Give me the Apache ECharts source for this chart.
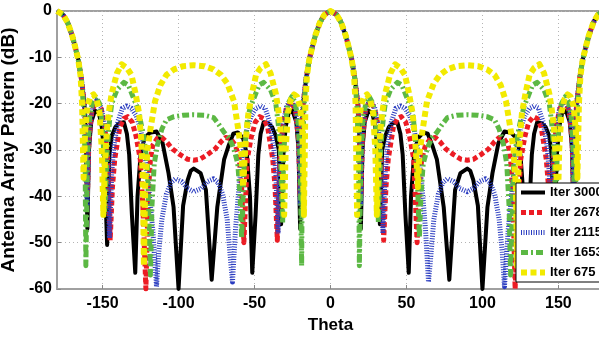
<!DOCTYPE html>
<html>
<head>
<meta charset="utf-8">
<script src="https://cdn.jsdelivr.net/npm/echarts@6/dist/echarts.min.js"></script>
<style>
  html, body { margin: 0; padding: 0; background: #fff; }
  #chart { width: 599px; height: 337px; }
</style>
</head>
<body>
<div id="chart"></div>
<script>
// theta (deg) and pattern (dB), one pair of arrays per curve

const theta3000 = [
  -180,-176,-173,-170,-168,-166,-164,-162,-161,-160,-159,-157.5,-155,-152.5,-150.5,-149,-147,-145.5,-144,-141.5,-139,-136,-134,-132.5,-130.7,-128.5,-127,-125,-122.5,-119,-114.5,-110.5,-106.6,-103.3,-100,-97,-94,-92,-90,
  -85.5,-82,-78.2,-74.5,-70,-67,-64,-61,-57.5,-55,-53,-51.5,-49.3,-47.5,-46,-44,-41,-38.5,-36,-34,-32.5,-31,-29.5,-27.5,-25,-22.5,-21,-20,-19,-18,-16,-14,-12,-10,-7,-4,0,
  4,7,10,12,14,16,18,19,20,21,22.5,25,27.5,29.5,31,32.5,34,36,38.5,41,44,46,47.5,49.3,51.5,53,55,57.5,61,64,67,70,74.5,78.2,82,85.5,90,
  92,94,97,100,103.3,106.6,110.5,114.5,119,122.5,125,127,128.5,130.7,132.5,134,136,139,141.5,144,145.5,147,149,150.5,152.5,155,157.5,159,160,161,162,164,166,168,170,173,176,180
];
const db3000 = [
  0,-0.8,-2.5,-5.3,-7.8,-10.5,-14.5,-20,-27,-47,-30,-24,-21.5,-22,-25,-31,-50.5,-31,-27,-25,-24.2,-24,-26.5,-31,-44,-56.5,-40,-31,-27.5,-26.3,-26,-28.5,-35,-42.3,-60,-42,-36.5,-34.5,-34,
  -35,-38.6,-58,-42.3,-32,-29,-26.5,-26.2,-27.5,-31,-40,-56.5,-44,-31,-26.5,-24,-24.2,-25,-27,-30,-46,-31,-25,-22,-21.5,-24,-30,-47,-27,-20,-14.5,-10.5,-7.8,-5.3,-2.5,-0.8,0,
  -0.8,-2.5,-5.3,-7.8,-10.5,-14.5,-20,-27,-47,-30,-24,-21.5,-22,-25,-31,-46,-30,-27,-25,-24.2,-24,-26.5,-31,-44,-56.5,-40,-31,-27.5,-26.2,-26.5,-29,-32,-42.3,-58,-38.6,-35,-34,
  -34.5,-36.5,-42,-60,-42.3,-35,-28.5,-26,-26.3,-27.5,-31,-40,-56.5,-44,-31,-26.5,-24,-24.2,-25,-27,-31,-50.5,-31,-25,-22,-21.5,-24,-30,-47,-27,-20,-14.5,-10.5,-7.8,-5.3,-2.5,-0.8,0
];

const theta2678 = [
  -180,-176,-173,-170,-168,-166,-164,-162,-160.8,-160,-159,-157,-154,-151,-148.5,-146.5,-145,-143.5,-142,-138.6,-136,-133.5,-130.5,-128,-125.2,-123.5,-121.5,-120,-118.5,-117,-114,-111,-108,-104,-99,-94,-90,
  -86,-81,-76,-72,-69,-66,-62.5,-60,-58.5,-57,-56,-54.8,-52,-49.5,-46.5,-44,-41.4,-38,-36.5,-35,-33.5,-31.5,-29,-26,-23,-21,-20,-19.2,-18,-16,-14,-12,-10,-7,-4,0,
  4,7,10,12,14,16,18,19.2,20,21,23,26,29,31.5,33.5,35,36.5,38,41.4,44,46.5,49.5,52,54.8,56,57,58.5,60,62.5,66,69,72,76,81,86,90,
  94,99,104,108,111,114,117,118.5,120,121.5,123.5,125.2,128,130.5,133.5,136,138.6,142,143.5,145,146.5,148.5,151,154,157,159,160,160.8,162,164,166,168,170,173,176,180
];
const db2678 = [
  0,-0.8,-2.5,-5.3,-7.8,-10.5,-14.5,-20,-27,-40,-28,-21.5,-19.5,-21,-25,-33,-49.5,-38,-32,-25,-23.2,-22.8,-24,-27,-32,-42,-60,-40,-32,-29,-27.5,-27.3,-28.2,-29.8,-31,-32,-32.2,
  -32,-31,-29.8,-28.2,-27.3,-27.5,-29,-32,-38,-50,-42,-32,-27,-24,-22.8,-23.2,-25,-32,-38,-49.5,-33,-25,-21,-19.5,-21.5,-28,-40,-27,-20,-14.5,-10.5,-7.8,-5.3,-2.5,-0.8,0,
  -0.8,-2.5,-5.3,-7.8,-10.5,-14.5,-20,-27,-40,-28,-21.5,-19.5,-21,-25,-33,-49.5,-38,-32,-25,-23.2,-22.8,-24,-27,-32,-42,-50,-38,-32,-29,-27.5,-27.3,-28.2,-29.8,-31,-32,-32.2,
  -32,-31,-29.8,-28.2,-27.3,-27.5,-29,-32,-40,-60,-42,-32,-27,-24,-22.8,-23.2,-25,-32,-38,-49.5,-33,-25,-21,-19.5,-21.5,-28,-40,-27,-20,-14.5,-10.5,-7.8,-5.3,-2.5,-0.8,0
];

const theta2115 = [
  -180,-176,-173,-170,-168,-166,-164,-162,-160.8,-160.2,-159,-157,-154,-151,-148.5,-146.8,-145.5,-144,-142.5,-140,-137,-134,-131,-128,-125,-122.5,-120,-117,-114.5,-113,-111,-108,-105,-102,-98,-94,-90,
  -85,-81,-77,-74,-71,-68,-66,-64.5,-62.5,-60,-57.5,-55,-52,-49,-46,-43,-40,-37.5,-36,-34.5,-33.2,-31.5,-29,-26,-23,-21,-19.8,-19.2,-18,-16,-14,-12,-10,-7,-4,0,
  4,7,10,12,14,16,18,19.2,19.8,21,23,26,29,31.5,33.2,34.5,36,37.5,40,43,46,49,52,55,57.5,60,62.5,64.5,66,68,71,74,77,81,85,90,
  94,98,102,105,108,111,113,114.5,117,120,122.5,125,128,131,134,137,140,142.5,144,145.5,146.8,148.5,151,154,157,159,160.2,160.8,162,164,166,168,170,173,176,180
];
const db2115 = [
  0,-0.8,-2.5,-5.3,-7.8,-10.5,-14.5,-20,-27,-42,-27,-21,-19.3,-20.8,-25,-34,-49,-35,-29,-24,-21,-20.5,-21,-22.5,-25.5,-30,-37,-47,-59.5,-52,-45,-39.5,-37,-36.2,-36.8,-38.3,-39,
  -38.3,-36.8,-36.2,-37,-39.5,-45,-53,-58.5,-47,-37,-30,-25.5,-22.5,-21,-20.5,-21,-24,-29,-35,-48,-34,-25,-20.8,-19.3,-21,-27,-42,-27,-20,-14.5,-10.5,-7.8,-5.3,-2.5,-0.8,0,
  -0.8,-2.5,-5.3,-7.8,-10.5,-14.5,-20,-27,-42,-27,-21,-19.3,-20.8,-25,-34,-48,-35,-29,-24,-21,-20.5,-21,-22.5,-25.5,-30,-37,-47,-58.5,-53,-45,-39.5,-37,-36.2,-36.8,-38.3,-39,
  -38.3,-36.8,-36.2,-37,-39.5,-45,-52,-59.5,-47,-37,-30,-25.5,-22.5,-21,-20.5,-21,-24,-29,-35,-49,-34,-25,-20.8,-19.3,-21,-27,-42,-27,-20,-14.5,-10.5,-7.8,-5.3,-2.5,-0.8,0
];

const theta1653 = [
  -180,-176,-173,-170,-168,-166,-164,-162.5,-161.5,-161,-160,-158.5,-156.5,-154.5,-152,-150,-149,-148.5,-147,-145.5,-144,-140.5,-136,-133,-130,-127.5,-125.5,-123,-120.5,-118.5,-117.5,-116,-114,-111,-108,-103,-97,-90,
  -83,-77,-73.5,-70,-67,-64.5,-63,-61,-59.5,-58.5,-56.5,-54.5,-52.5,-50,-47,-44,-39.5,-36,-34.5,-33,-31.5,-31,-30,-28,-25.5,-23.5,-21.5,-20,-19,-18.5,-17.5,-16,-14,-12,-10,-7,-4,0,
  4,7,10,12,14,16,17.5,18.5,19,20,21.5,23.5,25.5,28,30,31,31.5,33,34.5,36,39.5,44,47,50,52.5,54.5,56.5,58.5,59.5,61,63,64.5,67,70,73.5,77,83,90,
  97,103,108,111,114,116,117.5,118.5,120.5,123,125.5,127.5,130,133,136,140.5,144,145.5,147,148.5,149,150,152,154.5,156.5,158.5,160,161,161.5,162.5,164,166,168,170,173,176,180
];
const db1653 = [
  0,-0.8,-2.5,-5.3,-7.8,-10.5,-14.5,-21,-32,-55,-32,-23,-19.5,-18.5,-20,-25,-33,-43,-30,-24,-20,-17,-15.4,-16,-18.5,-20.5,-23,-27,-33,-57,-42,-33,-29,-25.5,-23.5,-22.8,-22.5,-22.4,
  -22.5,-23,-24.5,-26.2,-27.3,-29,-30.5,-33,-40,-49,-30,-23,-20.5,-18.5,-16,-15.4,-17,-20,-24,-30,-45.8,-33,-25,-20,-18.5,-19.5,-23,-32,-55,-32,-21,-14.5,-10.5,-7.8,-5.3,-2.5,-0.8,0,
  -0.8,-2.5,-5.3,-7.8,-10.5,-14.5,-21,-32,-55,-32,-23,-19.5,-18.5,-20,-25,-33,-45.8,-30,-24,-20,-17,-15.4,-16,-18.5,-20.5,-23,-30,-49,-40,-33,-30.5,-29,-27.3,-26.2,-24.5,-23,-22.5,-22.4,
  -22.5,-22.8,-23.5,-25.5,-29,-33,-42,-57,-33,-27,-23,-20.5,-18.5,-16,-15.4,-17,-20,-24,-30,-43,-33,-25,-20,-18.5,-19.5,-23,-32,-55,-32,-21,-14.5,-10.5,-7.8,-5.3,-2.5,-0.8,0
];

const theta675 = [
  -180,-176,-173,-170,-168,-166,-164.5,-163.5,-162.5,-161.5,-160,-158,-156,-154,-152,-150.5,-149.5,-148.5,-147,-145.5,-144,-140.5,-137.5,-134,-131,-128.5,-126,-124.5,-123.5,-122.8,-122,-120.5,-118.5,-115.5,-112,-108,-103,-97,-90,
  -83,-77,-72,-68,-63.5,-60.5,-58.5,-57.5,-56.5,-55.5,-54,-51.5,-49,-46,-42.5,-39.5,-36,-34.5,-33,-31.5,-30.5,-29.5,-28,-26,-24,-22,-20,-18.5,-17.5,-16.5,-15.5,-14,-12,-10,-7,-4,0,
  4,7,10,12,14,15.5,16.5,17.5,18.5,20,22,24,26,28,29.5,30.5,31.5,33,34.5,36,39.5,42.5,46,49,51.5,54,55.5,56.5,57.5,58.5,60.5,63.5,68,72,77,83,90,
  97,103,108,112,115.5,118.5,120.5,122,122.8,123.5,124.5,126,128.5,131,134,137.5,140.5,144,145.5,147,148.5,149.5,150.5,152,154,156,158,160,161.5,162.5,163.5,164.5,166,168,170,173,176,180
];
const db675 = [
  0,-0.8,-2.5,-5.3,-7.8,-10.5,-14,-20,-36,-26,-20.5,-18.5,-18,-19,-22,-30,-44,-33,-25,-21,-17.8,-13.4,-11.5,-12.3,-13.8,-17.5,-22,-28,-36,-55,-38,-30,-25.5,-19.5,-16,-13.8,-12.6,-11.9,-11.7,
  -11.9,-12.6,-13.8,-15.6,-19.5,-26,-31,-38,-32,-27,-22,-17.5,-13.8,-12.3,-11.5,-13.4,-17.8,-21,-25,-33,-44,-30,-22,-19,-18,-18.5,-20.5,-26,-44,-20,-14,-10.5,-7.8,-5.3,-2.5,-0.8,0,
  -0.8,-2.5,-5.3,-7.8,-10.5,-14,-20,-44,-26,-20.5,-18.5,-18,-19,-22,-30,-44,-33,-25,-21,-17.8,-13.4,-11.5,-12.3,-13.8,-17.5,-22,-27,-32,-38,-31,-26,-19.5,-15.6,-13.8,-12.6,-11.9,-11.7,
  -11.9,-12.6,-13.8,-16,-19.5,-25.5,-30,-38,-55,-36,-28,-22,-17.5,-13.8,-12.3,-11.5,-13.4,-17.8,-21,-25,-33,-44,-30,-22,-19,-18,-18.5,-20.5,-26,-36,-20,-14,-10.5,-7.8,-5.3,-2.5,-0.8,0
];

const seriesNames = ['Iter 3000', 'Iter 2678', 'Iter 2115', 'Iter 1653', 'Iter 675'];
const xTicks = [-150, -100, -50, 0, 50, 100, 150];

const pairs = (xs, ys) => xs.map((x, i) => [x, ys[i]]);

const lineStyles = [
  { color: '#000000', width: 4, type: 'solid' },
  { color: '#ec1c24', width: 5, type: [5, 3] },
  { color: '#2a3cc0', width: 5, type: [1, 1.5] },
  { color: '#5cb844', width: 5, type: [7, 3, 2, 3] },
  { color: '#f2ea00', width: 6, type: [6, 3.5] }
];
const curves = [
  pairs(theta3000, db3000),
  pairs(theta2678, db2678),
  pairs(theta2115, db2115),
  pairs(theta1653, db1653),
  pairs(theta675, db675)
];

const labelFont = { fontFamily: 'Liberation Sans, Arial, sans-serif', fontWeight: 'bold', color: '#000' };

const myChart = echarts.init(document.getElementById('chart'), null, { renderer: 'canvas' });

myChart.setOption({
  animation: false,
  backgroundColor: '#fff',
  grid: {
    left: 57, top: 11, right: -5, bottom: 48,
    outerBoundsMode: 'none',
    containLabel: false,
    show: true, borderColor: '#a0a0a0', borderWidth: 2, backgroundColor: '#fff'
  },
  legend: {
    data: seriesNames,
    orient: 'vertical',
    left: 516, top: 183,
    itemWidth: 24, itemHeight: 14, itemGap: 7,
    padding: [3, 6, 3, 2],
    backgroundColor: '#fff',
    borderColor: '#000', borderWidth: 1, borderRadius: 0,
    itemStyle: { color: 'rgba(0,0,0,0)', opacity: 0, borderWidth: 0 },
    lineStyle: { width: 'inherit' },
    textStyle: { fontFamily: 'Liberation Sans, Arial, sans-serif', fontWeight: 'bold', fontSize: 13, color: '#000' }
  },
  xAxis: {
    type: 'value', min: -180, max: 180,
    name: 'Theta', nameLocation: 'middle', nameGap: 26,
    nameTextStyle: Object.assign({ fontSize: 17 }, labelFont),
    axisLine: { show: true, onZero: false, lineStyle: { color: '#a0a0a0', width: 2 } },
    axisTick: { show: true, inside: true, length: 4, customValues: xTicks, lineStyle: { color: '#888' } },
    axisLabel: Object.assign({ fontSize: 16, margin: 7, customValues: xTicks }, labelFont),
    splitLine: { show: true, lineStyle: { color: '#b4b4b4', type: [1, 3], width: 1 } }
  },
  yAxis: {
    type: 'value', min: -60, max: 0, interval: 10,
    name: 'Antenna Array Pattern (dB)', nameLocation: 'middle', nameGap: 30,
    nameTextStyle: Object.assign({ fontSize: 19 }, labelFont),
    axisLine: { show: true, onZero: false, lineStyle: { color: '#a0a0a0', width: 2 } },
    axisTick: { show: true, inside: true, length: 4, lineStyle: { color: '#888' } },
    axisLabel: Object.assign({ fontSize: 16, margin: 5 }, labelFont),
    splitLine: { show: true, lineStyle: { color: '#b4b4b4', type: [1, 3], width: 1 } }
  },
  series: seriesNames.map((name, i) => ({
    name: name,
    type: 'line',
    data: curves[i],
    symbol: 'none',
    clip: true,
    itemStyle: { color: lineStyles[i].color },
    lineStyle: Object.assign({ cap: 'butt', join: 'round' }, lineStyles[i])
  }))
});
</script>
</body>
</html>
